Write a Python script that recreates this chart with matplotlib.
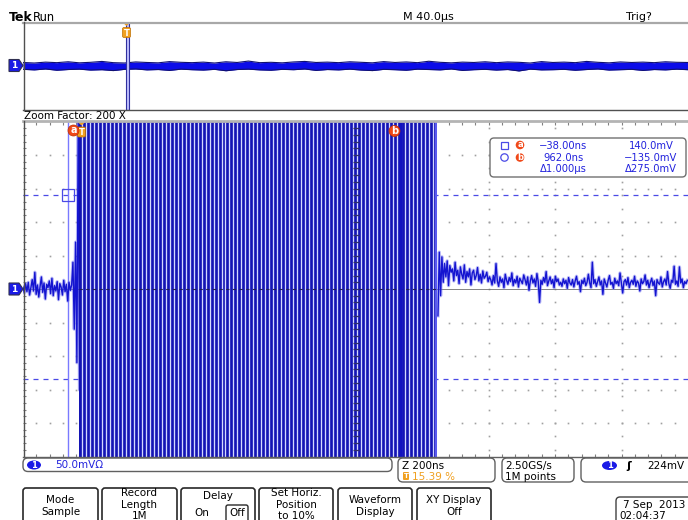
import numpy as np
import matplotlib
matplotlib.use("Agg")
import matplotlib.pyplot as plt
from matplotlib.patches import FancyBboxPatch, Rectangle, Polygon, Circle, Ellipse

# ---------------- data ----------------
main_time_ns = [-174, 1826]          # zoomed window, 200 ns/div
main_volt_mv = [-250, 250]           # 50 mV/div
overview_time_us = [-62, 338]        # 40 us/div

pre_start_ns, pre_end_ns = -174, -4
pre_mv = [3, -6, 8, -4, 10, -9, 2, 14, -3, 25, -8, 6, -12, 4, 18, -5, 9, -15, 7, 2,
          12, -7, 16, -10, 5, -3, 11, -16, 8, 3, -9, 13, -4, 7, -18, 10, -2, 6,
          40, -60, 70, -110, 250, -150]

post_start_ns, post_end_ns = 1074, 1824
post_mv = [-40, 55, -10, 48, 10, 38, 18, 42, 5, 35, 25, 30, 12, 40, 20, 28, 8, 33, 22, 15,
           36, 10, 26, 18, 30, 6, 24, 28, 14, 20, 32, 12, 22, 9, 27, 16, 19, 25, 11, 18,
           14, 6, 20, 9, 38, 12, 4, 18, 10, 15, 2, 22, 13, 7, 17, 11, 24, 5, 14, 9,
           19, 3, 16, 12, 8, 21, 14, 6, 18, -2, 12, 20, 9, 15, 4, 23, 11, -20, 13, 7,
           17, 10, 26, 5, 12, 18, 8, 14, 2, 19, 11, 15, 6,
           10, 4, 15, 8, 13, 1, 17, 9, 6, 14, 3, 12, 19, 7, 11, -4, 13, 8, 16, 5,
           10, 22, 9, 2, 40, 8, 14, 4, 11, 18, 6, 12, -8, 15, 9, 3, 13, 20, 7, 10,
           1, 16, 8, 12, 5, 24, 9, -6, 11, 14, 6, 17, 2, 10, 13, 7, 19, 4, 12, 9,
           -3, 15, 8, 11, 21, 6, 13, 2, 10, 16, 5, 12, -10, 14, 9, 7, 18, 3, 11, 15,
           6, 26, 8, 1, 13, 10, 34, 7, 12, 4, 33, 9, 15, 2, 11, 8, 13]

burst_start_ns, burst_end_ns, burst_period_ns = -6, 1071, 12.0

cursor_a_ns, cursor_b_ns = -38.0, 962.0
cursor_a_mv, cursor_b_mv = 140.0, -135.0
zoom_window_us = [-0.174, 1.826]

ov_upper_mv = [20, 17, 22, 19, 24, 18, 21, 26, 19, 17, 23, 20, 18, 25, 21, 19, 22, 17, 24, 20,
               28, 19, 21, 18, 23, 26, 20, 22, 19, 24, 21, 18, 25, 20, 23, 19, 27, 21, 18, 22,
               20, 24, 19, 23, 21, 17, 25, 20, 22, 19, 26, 21, 18, 23, 20, 22, 19, 24, 21, 20]
ov_lower_mv = [-19, -22, -17, -24, -20, -18, -23, -21, -26, -19, -17, -22, -20, -25, -18, -21,
               -23, -19, -27, -20, -18, -22, -24, -19, -21, -17, -25, -20, -22, -18, -23, -26,
               -19, -21, -24, -18, -20, -22, -17, -25, -21, -19, -23, -20, -28, -18, -22, -21,
               -19, -24, -20, -17, -23, -21, -19, -25, -20, -22, -18, -21]

readout_rows = [("\u221238.00ns", "140.0mV"), ("962.0ns", "\u2212135.0mV"),
                ("\u03941.000\u00b5s", "\u0394275.0mV")]

# ---------------- figure ----------------
W, H = 688, 520
fig = plt.figure(figsize=(W / 100, H / 100), dpi=100)
fig.patch.set_facecolor("white")
plt.rcParams['font.family'] = ['DejaVu Sans']

def rect(x0, y0, x1, y1):
    return [x0 / W, 1 - y1 / H, (x1 - x0) / W, (y1 - y0) / H]

BLUE = "#1414d0"
TXT_BLUE = "#2222dd"
ORANGE = "#f0a020"
RED = "#f04818"

# ---- main (zoomed) axes ----
ax = fig.add_axes(rect(23, 121.5, 688, 456.5))
ax.set_xlim(*main_time_ns)
ax.set_ylim(*main_volt_mv)
ax.axis("off")

t0, t1 = main_time_ns
# grid dots
row_levels = [v for v in range(-200, 201, 50) if v != 0]
row_t = np.arange(t0 + 40, t1, 40)
for v in row_levels:
    ax.plot(row_t, np.full(len(row_t), v), ls="none", marker="s", ms=1.2,
            color="#a0a0a0", mec="none", zorder=1)
col_t = [t0 + 200 * k for k in range(1, 10) if k != 5]
col_v = np.arange(-240, 241, 20)
for t in col_t:
    ax.plot(np.full(len(col_v), t), col_v, ls="none", marker="s", ms=1.2,
            color="#a0a0a0", mec="none", zorder=1)
# centre line
ax.axhline(0, color="#707070", lw=0.6, zorder=1.5)
# edge ticks
top_t = np.arange(t0 + 40, t1, 40)
ax.vlines(top_t, 1 - 3 / 335, 1, transform=ax.get_xaxis_transform(), color="#808080", lw=0.8)
ax.vlines(top_t, 0, 3 / 335, transform=ax.get_xaxis_transform(), color="#808080", lw=0.8)
left_v = np.arange(-240, 250, 10)
ax.hlines(left_v, 0, 3 / 665, transform=ax.get_yaxis_transform(), color="#808080", lw=0.8)

# cursor horizontal lines
for v in (cursor_a_mv, cursor_b_mv):
    ax.axhline(v, color="#4a4ae6", lw=0.9, ls=(0, (4, 4)), zorder=2)
ax.axvline(cursor_a_ns, color="#7a7aff", lw=1.0, zorder=2)

# trace
t_pre = np.linspace(pre_start_ns, pre_end_ns, len(pre_mv))
t_post = np.linspace(post_start_ns, post_end_ns, len(post_mv))
for tt, vv in ((t_pre, pre_mv), (t_post, post_mv)):
    ax.plot(tt, vv, color="#7070f0", lw=2.4, alpha=0.45, zorder=3)
    ax.plot(tt, vv, color=BLUE, lw=1.0, zorder=3.1)

# burst (clipped sine, drawn as stripes)
ax.axvspan(burst_start_ns, burst_end_ns, color="#1414b4", lw=0, zorder=4)
stripes = np.arange(burst_start_ns + burst_period_ns * 0.75, burst_end_ns - 2, burst_period_ns)
ax.vlines(stripes, main_volt_mv[0], main_volt_mv[1], color="#d4d8ff", lw=0.95, zorder=4.5)
ax.axvspan(burst_end_ns - 6, burst_end_ns, color="#5a5af0", lw=0, zorder=4.6)
# centre line and centre ticks over the burst
ax.plot([burst_start_ns, burst_end_ns], [0, 0], color="#202050", lw=0.8,
        ls=(0, (3, 3)), zorder=5)
ctr_t = t0 + 1000
ax.plot(np.full(len(left_v), ctr_t), left_v, ls="none", marker="_", ms=5,
        mew=0.9, color="#303068", zorder=5)
# cursor b through burst
ax.axvline(cursor_b_ns, color="#1212c0", lw=2.6, zorder=5)
ax.plot([cursor_a_ns], [cursor_a_mv], marker="s", ms=9, mfc="none", mec="#4a4ae6",
        mew=0.9, zorder=6)

# ---- overview axes ----
ov_ax = fig.add_axes(rect(23, 22, 688, 110))
ov_ax.set_xlim(*overview_time_us)
ov_ax.set_ylim(-250, 250)
ov_ax.axis("off")
ot = np.linspace(overview_time_us[0], overview_time_us[1], len(ov_upper_mv))
ov_ax.fill_between(ot, ov_lower_mv, ov_upper_mv, color="#0c0ce8", lw=0, zorder=2)
ov_ax.plot(ot, ov_upper_mv, color="#101070", lw=0.8, zorder=2.1)
ov_ax.plot(ot, ov_lower_mv, color="#101070", lw=0.8, zorder=2.1)
ov_ax.add_patch(Rectangle((zoom_window_us[0], -250), zoom_window_us[1] - zoom_window_us[0], 500,
                          facecolor="#c0c0ff", edgecolor="#3030a0", lw=0.8, zorder=3))

# ---- overlay (pixel coordinates) ----
o = fig.add_axes([0, 0, 1, 1], zorder=10)
o.set_xlim(0, W)
o.set_ylim(H, 0)
o.axis("off")

fs = 7.5
o.text(9, 21, "Tek", fontsize=9, fontweight="bold", va="baseline")
o.text(33, 21, "Run", fontsize=8.3, va="baseline")
o.text(403, 20, "M 40.0\u00b5s", fontsize=8, va="baseline")
o.text(626, 20, "Trig?", fontsize=8, va="baseline")
o.text(24, 119, "Zoom Factor: 200 X", fontsize=7.5, va="baseline")

# frames
o.plot([23, 688], [22.5, 22.5], color="#a8a8a8", lw=1.6)
o.plot([23, 688], [109.5, 109.5], color="#505050", lw=1.0)
o.plot([23.5, 23.5], [22, 110], color="#505050", lw=1.0)
o.plot([23, 688], [121, 121], color="#b4b4b4", lw=2.0)
o.plot([23.5, 23.5], [121, 457], color="#505050", lw=1.0)
o.plot([23, 688], [457, 457], color="#606060", lw=1.0)

def ch_marker(yc):
    o.add_patch(Polygon([(9, yc - 6), (19, yc - 6), (23, yc), (19, yc + 6), (9, yc + 6)],
                        closed=True, facecolor="#1a1ae6", edgecolor="#303050", lw=0.8))
    o.text(14.5, yc + 0.5, "1", color="white", fontsize=6.5, fontweight="bold",
           ha="center", va="center")

ch_marker(289)
ch_marker(65.5)

def t_marker(xc, ytop):
    o.add_patch(Polygon([(xc - 4.5, ytop), (xc + 4.5, ytop), (xc, ytop + 4)],
                        closed=True, facecolor=ORANGE, edgecolor="none"))
    o.add_patch(FancyBboxPatch((xc - 4, ytop + 5.5), 8, 10, boxstyle="round,pad=0,rounding_size=1.5",
                               facecolor=ORANGE, edgecolor="#c07000", lw=0.5))
    o.text(xc, ytop + 11, "T", color="white", fontsize=6, fontweight="bold",
           ha="center", va="center")

t_marker(126.5, 22)
t_marker(81.5, 121.5)

def letter_circle(xc, yc, ch, r=5.5):
    o.add_patch(Circle((xc, yc), r, facecolor=RED, edgecolor="#c03000", lw=0.5))
    o.text(xc, yc - 0.3, ch, color="white", fontsize=7, fontweight="bold",
           ha="center", va="center")

letter_circle(73.5, 130.5, "a")
letter_circle(394.5, 131, "b")

# cursor readout box
o.add_patch(FancyBboxPatch((490, 138), 196, 39, boxstyle="round,pad=0,rounding_size=4",
                           facecolor="white", edgecolor="#707070", lw=1.0))
o.add_patch(Rectangle((501, 141.5), 7, 7, facecolor="none", edgecolor="#4a4ae6", lw=0.9))
o.add_patch(Circle((504.5, 157.5), 3.7, facecolor="none", edgecolor="#4a4ae6", lw=0.9))
o.add_patch(Circle((520, 145), 4.3, facecolor=RED, edgecolor="none"))
o.text(520, 144.7, "a", color="white", fontsize=6, fontweight="bold", ha="center", va="center")
o.add_patch(Circle((520, 157.5), 4.3, facecolor=RED, edgecolor="none"))
o.text(520, 157.2, "b", color="white", fontsize=6, fontweight="bold", ha="center", va="center")
for i, (a_txt, b_txt) in enumerate(readout_rows):
    yy = 146 + 11.7 * i
    o.text(563, yy, a_txt, color=TXT_BLUE, fontsize=7.2, ha="center", va="center")
    o.text(651, yy, b_txt, color=TXT_BLUE, fontsize=7.2, ha="center", va="center")

# bottom readouts
def rbox(x, y, w, h, r=5, ec="#606060", lw=1.0):
    o.add_patch(FancyBboxPatch((x, y), w, h, boxstyle=f"round,pad=0,rounding_size={r}",
                               facecolor="white", edgecolor=ec, lw=lw))

rbox(23, 458, 369, 13.5)
o.add_patch(Ellipse((34, 465), 14, 9, facecolor="#1a1ae6", edgecolor="none"))
o.text(34, 465.3, "1", color="white", fontsize=6, fontweight="bold", ha="center", va="center")
o.text(55, 465.5, "50.0mV\u03a9", color=TXT_BLUE, fontsize=fs, va="center")

rbox(398, 458, 97, 24)
o.text(402, 466, "Z 200ns", fontsize=fs, va="center")
o.add_patch(FancyBboxPatch((403, 472), 6, 8, boxstyle="round,pad=0,rounding_size=1",
                           facecolor=ORANGE, edgecolor="none"))
o.text(406, 476.3, "T", color="white", fontsize=5, fontweight="bold", ha="center", va="center")
o.text(412, 477, "15.39 %", color=ORANGE, fontsize=fs, va="center")

rbox(502, 458, 72, 24)
o.text(505, 466, "2.50GS/s", fontsize=fs, va="center")
o.text(505, 477, "1M points", fontsize=fs, va="center")

rbox(581, 458, 112, 24)
o.add_patch(Ellipse((609.5, 465.5), 15, 9, facecolor="#1a1ae6", edgecolor="none"))
o.text(609.5, 465.8, "1", color="white", fontsize=6, fontweight="bold", ha="center", va="center")
o.text(629, 466, "\u0283", fontsize=8, fontweight="bold", ha="center", va="center")
o.text(647, 466, "224mV", fontsize=fs, va="center")

# menu buttons
buttons = [(23, 98, ["Mode", "Sample"]),
           (102, 177, ["Record", "Length", "1M"]),
           (181, 255, None),
           (259, 333, ["Set Horiz.", "Position", "to 10%"]),
           (338, 412, ["Waveform", "Display"]),
           (417, 491, ["XY Display", "Off"])]
for x0, x1, lines in buttons:
    rbox(x0, 488, x1 - x0, 40, r=3, ec="#282828", lw=1.2)
    xc = (x0 + x1) / 2
    if lines is None:
        o.text(xc, 496, "Delay", fontsize=fs, ha="center", va="center")
        o.text(202, 513, "On", fontsize=fs, ha="center", va="center")
        rbox(226, 505, 22, 18, r=2, ec="#282828", lw=1.0)
        o.text(237, 513, "Off", fontsize=fs, ha="center", va="center")
        continue
    if len(lines) == 2:
        ys = [500, 512]
    else:
        ys = [493, 504.5, 516]
    for yy, ln in zip(ys, lines):
        o.text(xc, yy, ln, fontsize=fs, ha="center", va="center")

rbox(616, 497, 80, 30, r=4, ec="#404040", lw=1.0)
o.text(623, 505, "7 Sep  2013", fontsize=fs, va="center")
o.text(619, 516, "02:04:37", fontsize=fs, va="center")

fig.savefig("out.png", dpi=100, facecolor="white")
